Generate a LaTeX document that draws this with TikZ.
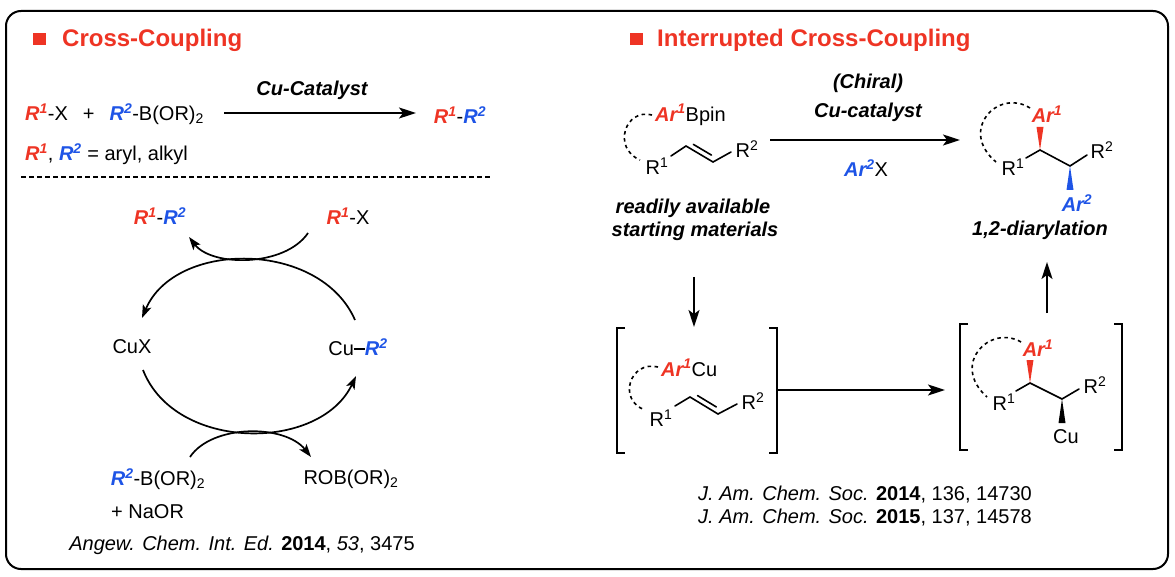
\documentclass[tikz,border=0pt]{standalone}
\usepackage{fontspec}
\setmainfont{Liberation Sans}
\usepackage{tikz}
\usetikzlibrary{arrows.meta,calc}

\definecolor{ccred}{RGB}{238,52,36}
\definecolor{ccblue}{RGB}{30,84,230}
\newcommand{\rone}{{\color{ccred}\bfseries\itshape R\textsuperscript{1}}}
\newcommand{\rtwo}{{\color{ccblue}\bfseries\itshape R\textsuperscript{2}}}
\newcommand{\arone}{{\color{ccred}\bfseries\itshape Ar\textsuperscript{1}}}
\newcommand{\artwo}{{\color{ccblue}\bfseries\itshape Ar\textsuperscript{2}}}

\begin{document}
\begin{tikzpicture}[x=1pt, y=-1pt,
	arr/.style={-{Stealth[length=17pt,width=11pt,inset=4pt]}, line width=1.7pt},
	cyc/.style={-{Stealth[length=13pt,width=9pt,inset=3pt]}, line width=1.7pt},
	every node/.style={inner sep=1pt, font=\fontsize{20}{23}\selectfont},
	title/.style={anchor=west, text=ccred, font=\fontsize{24}{27}\selectfont\bfseries},
	cond/.style={font=\fontsize{20}{23}\selectfont\bfseries\itshape},
	bond/.style={line width=1.6pt, line cap=round},
	ring/.style={line width=1.6pt, dash pattern=on 3.5pt off 3.5pt},
	brack/.style={line width=1.8pt}]
	\useasboundingbox (0,0) rectangle (1175,577);
	\draw[line width=2pt, rounded corners=15pt] (6,11) rectangle (1168,569);
	% left: cross-coupling
	\fill[ccred] (33,33) rectangle (45.5,45.5);
	\node[title] (tl) at (61,40) {Cross-Coupling};
	\node[anchor=west] (sm) at (24,114) {\rone-X\hspace{15pt}+\hspace{15pt}\rtwo-B(OR)\textsubscript{2}};
	\node (pr) at (460,115) {\rone-\rtwo};
	\coordinate (e1) at (224,113);
	\coordinate (e2) at (416,113);
	\draw[arr] (e1) -- (e2);
	\node[cond] (cat) at (312,90) {Cu-Catalyst};
	\node[anchor=west] (scope) at (24,154) {\rone, \rtwo\ = aryl, alkyl};
	\draw[line width=1.5pt, dash pattern=on 4.5pt off 3.5pt] (21,177) -- (490,177);
	% catalytic cycle
	\node (cyp) at (160,216) {\rone-\rtwo};
	\node (cyx) at (348,216) {\rone-X};
	\node (cux) at (132,347) {CuX};
	\node (cur) at (358,347) {Cu\rule[0.3em]{0.55em}{1.8pt}\rtwo};
	\node (bor) at (158,479) {\rtwo-B(OR)\textsubscript{2}};
	\node[anchor=west] (naor) at (110,512) {+ NaOR};
	\node (rob) at (351,479) {ROB(OR)\textsubscript{2}};
	\node (cite1) at (242,545) {\textit{Angew. Chem. Int. Ed.} \textbf{2014}, \textit{53}, 3475};
	\draw[cyc] (355,320) .. controls (320,240) and (175,240) .. (142,318);
	\draw[cyc] (308,233) .. controls (285,267) and (212,267) .. (189,237);
	\draw[cyc] (143,370) .. controls (175,452) and (320,452) .. (356,376);
	\draw[cyc] (190,457) .. controls (212,424) and (285,424) .. (311,457);
	% right: interrupted cross-coupling
	\fill[ccred] (630,33) rectangle (642.5,45.5);
	\node[title] (tr) at (656,40) {Interrupted Cross-Coupling};
	% starting material
	\draw[ring] (652,115) .. controls (625,108) and (612,148) .. (640,160);
	\node[anchor=west] (arb) at (654,115) {\arone Bpin};
	\node (sr1) at (657,166) {R\textsuperscript{1}};
	\coordinate (s1) at (671,156);
	\coordinate (s2) at (686,146);
	\coordinate (s3) at (713,162);
	\coordinate (s4) at (731,152);
	\draw[bond] (s1) -- (s2) -- (s3) -- (s4);
	\draw[bond] ($(s2)!0.18!(s3)+(2.5,-4.5)$) -- ($(s2)!0.85!(s3)+(2.5,-4.5)$);
	\node (sr2) at (747,149) {R\textsuperscript{2}};
	\node[cond] (ra1) at (693,208) {readily available};
	\node[cond] (ra2) at (695,231) {starting materials};
	% reaction arrow
	\coordinate (t1) at (770,140);
	\coordinate (t2) at (960,140);
	\draw[arr] (t1) -- (t2);
	\node[cond] (ch) at (868,83) {(Chiral)};
	\node[cond] (cc) at (868,112) {Cu-catalyst};
	\node (ax) at (866,168) {\artwo X};
	% product
	\draw[ring] (1030,108) .. controls (998,88) and (958,130) .. (996,162);
	\node (pa1) at (1047,114) {\arone};
	\node (pr1) at (1013,167) {R\textsuperscript{1}};
	\coordinate (p1) at (1040,150);
	\coordinate (p2) at (1070,166);
	\draw[bond] (1026,158) -- (p1) -- (p2) -- (1087,155);
	\fill[ccred] (p1) -- (1036.5,127) -- (1043.5,127) -- cycle;
	\fill[ccblue] (p2) -- (1066.5,190) -- (1073.5,190) -- cycle;
	\node (pr2) at (1102,150) {R\textsuperscript{2}};
	\node (pa2) at (1077,203) {\artwo};
	\node[cond] (dia) at (1040,230) {1,2-diarylation};
	% intermediates
	\draw[arr] (694,277) -- (694,327);
	\draw[brack] (625,328) -- (617,328) -- (617,453) -- (625,453);
	\draw[brack] (769,328) -- (777,328) -- (777,453) -- (769,453);
	\draw[ring] (658,367) .. controls (630,360) and (617,400) .. (645,410);
	\node[anchor=west] (acu) at (660,368) {\arone Cu};
	\node (ir1) at (661,418) {R\textsuperscript{1}};
	\coordinate (i1) at (675,406);
	\coordinate (i2) at (690,397);
	\coordinate (i3) at (718,414);
	\coordinate (i4) at (737,404);
	\draw[bond] (i1) -- (i2) -- (i3) -- (i4);
	\draw[bond] ($(i2)!0.18!(i3)+(2.5,-4.5)$) -- ($(i2)!0.85!(i3)+(2.5,-4.5)$);
	\node (ir2) at (753,401) {R\textsuperscript{2}};
	\draw[arr] (777,390) -- (945,390);
	\draw[brack] (968,324) -- (960,324) -- (960,450) -- (968,450);
	\draw[brack] (1114,324) -- (1122,324) -- (1122,450) -- (1114,450);
	\draw[ring] (1021,342) .. controls (990,324) and (950,364) .. (987,397);
	\node (ja1) at (1038,348) {\arone};
	\node (jr1) at (1004,402) {R\textsuperscript{1}};
	\coordinate (j1) at (1030,383);
	\coordinate (j2) at (1062,399);
	\draw[bond] (1016,391) -- (j1) -- (j2) -- (1079,389);
	\fill[ccred] (j1) -- (1026.5,360) -- (1033.5,360) -- cycle;
	\fill (j2) -- (1058.5,423) -- (1065.5,423) -- cycle;
	\node (jr2) at (1095,385) {R\textsuperscript{2}};
	\node (jcu) at (1066,437) {Cu};
	\draw[arr] (1047,313) -- (1047,262);
	\node (cite2) at (865,495) {\textit{J. Am. Chem. Soc.} \textbf{2014}, 136, 14730};
	\node (cite3) at (865,518) {\textit{J. Am. Chem. Soc.} \textbf{2015}, 137, 14578};
\end{tikzpicture}
\end{document}
